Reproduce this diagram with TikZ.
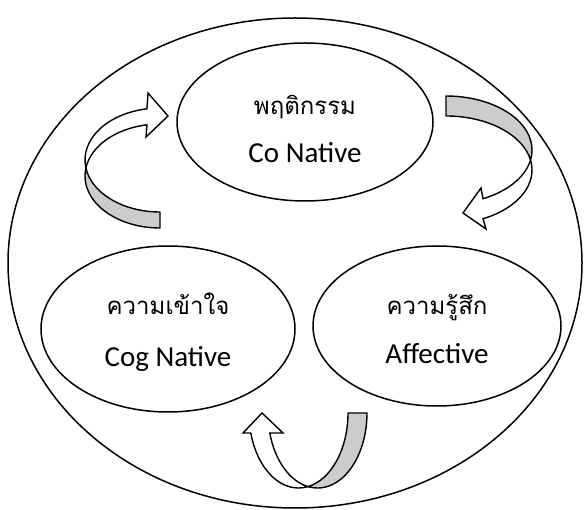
\documentclass[tikz,border=0pt]{standalone}
\usepackage{fontspec}
\setmainfont{Carlito}
\newfontfamily\thaifont[Script=Thai]{Loma}
\usetikzlibrary{positioning,shapes.geometric,calc}
\tikzset{
  bubble/.style={draw=black, line width=1.5pt, ellipse, inner sep=0pt},
  thtxt/.style={font=\thaifont\fontsize{24}{28}\selectfont, anchor=base, inner sep=0pt},
  entxt/.style={font=\fontsize{29}{34}\selectfont, anchor=base, inner sep=0pt},
  backband/.style={draw=black, line width=1.4pt, fill=gray!40, line join=round},
  frontband/.style={draw=black, line width=1.4pt, fill=white, line join=miter},
}

\begin{document}
\begin{tikzpicture}[x=1pt, y=-1pt]
    \useasboundingbox (0,0) rectangle (584,510);

      \node[bubble, minimum width=574pt, minimum height=490pt] (outer) at (295,263) {};
      \node[bubble, minimum width=256pt, minimum height=158pt] (behav) at (305,122) {};
      \node[bubble, minimum width=254pt, minimum height=166pt] (cog) at (168,329) {};
      \node[bubble, minimum width=248pt, minimum height=160pt] (affect) at (437,326) {};

      \node[thtxt] (behavth) at (305,115) {พฤติกรรม};
      \node[entxt] (behaven) at (305,163) {Co Native};
      \node[thtxt] (cogth) at (168,315) {ความเข้าใจ};
      \node[entxt] (cogen) at (168,367) {Cog Native};
      \node[thtxt] (affth) at (437,315) {ความรู้สึก};
      \node[entxt] (affen) at (437,364) {Affective};

      \coordinate (la) at (160,160);
      \coordinate (lb) at (160,176);
      \coordinate (ra) at (446,150);
      \coordinate (rb) at (446,170);
      \coordinate (ba) at (298.5,413);
      \coordinate (bb) at (317.5,413);

      \draw[backband] (la) ++(90:75 and 52)
        arc[start angle=90, end angle=171.15, x radius=75, y radius=52]
        arc[start angle=188.85, end angle=90, x radius=75, y radius=52] -- cycle;
      \draw[frontband] (la) ++(171.15:75 and 52)
        arc[start angle=171.15, end angle=260, x radius=75, y radius=52]
        -- (148,93) -- (168,116) -- (146,137) -- ($(lb)+(260:75 and 52)$)
        arc[start angle=260, end angle=188.85, x radius=75, y radius=52] -- cycle;

      \draw[backband] (ra) ++(270:86 and 54)
        arc[start angle=270, end angle=370.67, x radius=86, y radius=54]
        arc[start angle=349.33, end angle=270, x radius=86, y radius=54] -- cycle;
      \draw[frontband] (ra) ++(10.67:86 and 54)
        arc[start angle=10.67, end angle=64.5, x radius=86, y radius=54]
        -- (481,188) -- (463,213) -- (486,229) -- ($(rb)+(64.5:86 and 54)$)
        arc[start angle=64.5, end angle=-10.67, x radius=86, y radius=54] -- cycle;

      \draw[backband] (ba) ++(0:49.5 and 75)
        arc[start angle=0, end angle=78.94, x radius=49.5, y radius=75]
        arc[start angle=101.06, end angle=0, x radius=49.5, y radius=75] -- cycle;
      \draw[frontband] (ba) ++(78.94:49.5 and 75)
        arc[start angle=78.94, end angle=164.53, x radius=49.5, y radius=75]
        -- (243,433) -- (262,413) -- (283,433) -- ($(bb)+(164.53:49.5 and 75)$)
        arc[start angle=164.53, end angle=101.06, x radius=49.5, y radius=75] -- cycle;

\end{tikzpicture}
\end{document}
